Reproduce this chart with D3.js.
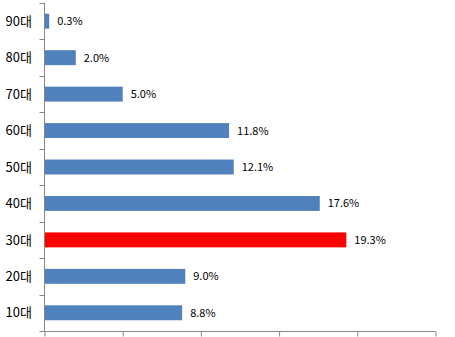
<!DOCTYPE html>
<html>
<head>
<meta charset="utf-8">
<script src="https://cdn.jsdelivr.net/npm/d3@7"></script>
<style>
  html, body { margin: 0; padding: 0; background: #fff; }
  svg { display: block; }
  text { font-family: "Noto Sans CJK KR", "DejaVu Sans", sans-serif; fill: #000; }
</style>
</head>
<body>
<svg id="chart" width="455" height="337"></svg>
<script>
// Age groups, top to bottom
const categories = ["90대", "80대", "70대", "60대", "50대", "40대", "30대", "20대", "10대"];
// Share of each age group (%)
const values = [0.3, 2.0, 5.0, 11.8, 12.1, 17.6, 19.3, 9.0, 8.8];
// Highlighted group
const highlight = "30대";
const xTicks = [0, 5, 10, 15, 20, 25];

const svg = d3.select("#chart");
const margin = { left: 44.5, right: 19.5, top: 3, bottom: 6 };
const width = 455, height = 337;

const x = d3.scaleLinear()
  .domain([0, 25])
  .range([margin.left, width - margin.right]);

const y = d3.scaleBand()
  .domain(categories)
  .range([margin.top, height - margin.bottom])
  .paddingInner(0.59)
  .paddingOuter(0.295);

// Bars
svg.append("g")
  .selectAll("rect")
  .data(categories)
  .join("rect")
  .attr("x", x(0))
  .attr("y", d => y(d))
  .attr("width", (d, i) => x(values[i]) - x(0))
  .attr("height", y.bandwidth())
  .attr("fill", d => d === highlight ? "#FF0000" : "#4F81BD");

// Value labels
svg.append("g")
  .selectAll("text")
  .data(categories)
  .join("text")
  .attr("x", (d, i) => x(values[i]) + 8)
  .attr("y", d => y(d) + y.bandwidth() / 2)
  .attr("dy", "0.36em")
  .attr("font-size", 11)
  .text((d, i) => values[i].toFixed(1) + "%");

// Bottom axis (no labels)
const xAxis = svg.append("g")
  .attr("transform", `translate(0,${height - margin.bottom + 0.5})`)
  .call(d3.axisBottom(x).tickValues(xTicks).tickSize(5).tickFormat(""));
xAxis.select(".domain").attr("stroke", "#868686").attr("d", `M${x(0)},0H${x(25)}`);
xAxis.selectAll(".tick line").attr("stroke", "#868686");

// Left axis with tick marks between categories
const yAxisG = svg.append("g")
  .attr("transform", `translate(${margin.left},0)`);
yAxisG.append("line")
  .attr("x1", 0).attr("x2", 0)
  .attr("y1", margin.top).attr("y2", height - margin.bottom + 0.5)
  .attr("stroke", "#868686");
const boundaries = d3.range(categories.length + 1).map(i => margin.top + i * (height - margin.top - margin.bottom) / categories.length);
yAxisG.selectAll("line.tk")
  .data(boundaries)
  .join("line")
  .attr("class", "tk")
  .attr("x1", -5).attr("x2", 0)
  .attr("y1", d => Math.round(d) + 0.5).attr("y2", d => Math.round(d) + 0.5)
  .attr("stroke", "#868686");

// Category labels
svg.append("g")
  .selectAll("text")
  .data(categories)
  .join("text")
  .attr("x", 32)
  .attr("y", d => y(d) + y.bandwidth() / 2)
  .attr("dy", "0.36em")
  .attr("text-anchor", "end")
  .attr("font-size", 13)
  .text(d => d);
</script>
</body>
</html>
